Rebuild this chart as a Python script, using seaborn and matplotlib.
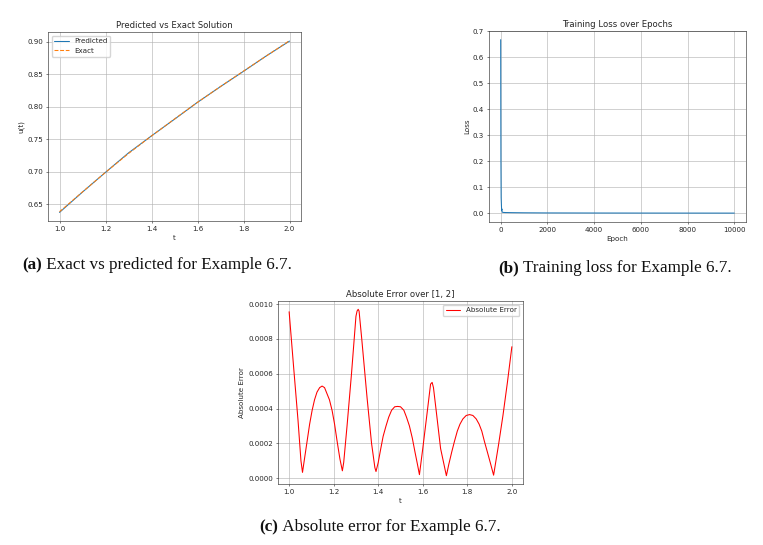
import matplotlib
matplotlib.use("Agg")
import matplotlib.pyplot as plt
import seaborn as sns

# ---------------- data ----------------
# (a) exact vs predicted
t_a = [1.0, 1.1, 1.2, 1.3, 1.4, 1.5, 1.6, 1.7, 1.8, 1.9, 2.0]
u_exact = [0.6385, 0.669, 0.699, 0.728, 0.755, 0.781, 0.8066, 0.831, 0.8546, 0.878, 0.9015]
u_pred = [0.6375, 0.6688, 0.6991, 0.7289, 0.7551, 0.7807, 0.8067, 0.8308, 0.8543, 0.8782, 0.9007]

# (b) training loss
epochs = [0, 5, 10, 20, 40, 50, 60, 80, 100, 200, 500, 1000, 2000, 4000, 6000, 8000, 10000]
loss = [0.668, 0.42, 0.21, 0.06, 0.012, 0.017, 0.006, 0.004, 0.0035, 0.003, 0.0025,
        0.002, 0.0015, 0.0012, 0.001, 0.0009, 0.0008]

# (c) absolute error
t_c = [1.0, 1.02, 1.04, 1.053, 1.06, 1.07, 1.081, 1.092, 1.103, 1.114, 1.125, 1.137, 1.148,
       1.159, 1.170, 1.181, 1.193, 1.204, 1.215, 1.228, 1.239, 1.245, 1.26, 1.28, 1.30,
       1.305, 1.31, 1.314, 1.326, 1.35, 1.37, 1.385, 1.39, 1.40, 1.41, 1.422, 1.435,
       1.447, 1.46, 1.474, 1.487, 1.50, 1.515, 1.527, 1.54, 1.553, 1.565, 1.576, 1.585,
       1.60, 1.62, 1.635, 1.642, 1.648, 1.66, 1.68, 1.706, 1.717, 1.73, 1.742, 1.755,
       1.767, 1.78, 1.795, 1.81, 1.825, 1.84, 1.853, 1.865, 1.877, 1.89, 1.905, 1.918,
       1.94, 1.96, 1.98, 2.0]
err_c = [0.000956, 0.00064, 0.00033, 0.00010, 0.000033, 0.00012, 0.000215, 0.00031, 0.000388,
         0.00045, 0.000494, 0.00052, 0.000529, 0.00052, 0.000485, 0.00045, 0.000388, 0.00031,
         0.000215, 0.00011, 0.000042, 0.00009, 0.00030, 0.00060, 0.00093,
         0.00096, 0.00097, 0.00096, 0.00080, 0.00046, 0.00020, 0.00006, 0.000038, 0.00009,
         0.00016, 0.00024, 0.00030, 0.00035, 0.00039, 0.00041, 0.000412, 0.00041, 0.00039,
         0.00035, 0.00030, 0.00023, 0.00015, 0.00008, 0.00002,
         0.00017, 0.00038, 0.00054, 0.00055, 0.00052, 0.00039, 0.00017, 0.000014, 0.00008,
         0.00015, 0.00021, 0.00027, 0.00031, 0.00034, 0.00036, 0.000365, 0.00036, 0.00034,
         0.00031, 0.00027, 0.00021, 0.00015, 0.00008, 0.000017,
         0.00019, 0.00036, 0.00055, 0.000755]

captions = [("(a)", "Exact vs predicted for Example 6.7."),
            ("(b)", "Training loss for Example 6.7."),
            ("(c)", "Absolute error for Example 6.7.")]

# ---------------- style ----------------
sc = 0.51
sns.set_style("ticks", rc={
    "axes.grid": True,
    "grid.color": "#b0b0b0",
    "axes.edgecolor": "#222222",
})
plt.rcParams.update({
    "font.family": ["DejaVu Sans"],
    "grid.linewidth": 0.8 * sc,
    "axes.linewidth": 0.8 * sc,
    "xtick.major.width": 0.8 * sc,
    "ytick.major.width": 0.8 * sc,
    "xtick.major.size": 3.5 * sc,
    "ytick.major.size": 3.5 * sc,
    "xtick.major.pad": 3.5 * sc,
    "ytick.major.pad": 3.5 * sc,
    "legend.fancybox": True,
})

W, H = 763, 545
fig = plt.figure(figsize=(W / 100, H / 100), dpi=100)

fs_tick = 10 * sc
fs_lab = 10 * sc
fs_title = 12 * sc
lw = 1.5 * sc


def style_ax(ax, title, xlabel, ylabel):
    ax.set_title(title, fontsize=fs_title, pad=6 * sc)
    ax.set_xlabel(xlabel, fontsize=fs_lab, labelpad=4 * sc)
    ax.set_ylabel(ylabel, fontsize=fs_lab, labelpad=4 * sc)
    ax.tick_params(labelsize=fs_tick, length=3.5 * sc, width=0.8 * sc, pad=3.5 * sc)
    for s in ax.spines.values():
        s.set_visible(True)
        s.set_linewidth(0.8 * sc)


# (a)
ax1 = fig.add_axes([48 / W, 1 - 221 / H, 253 / W, 189 / H])
sns.lineplot(x=t_a, y=u_pred, ax=ax1, label="Predicted", color="#1f77b4", linewidth=lw)
sns.lineplot(x=t_a, y=u_exact, ax=ax1, label="Exact", color="#ff7f0e", linewidth=lw,
             linestyle="--")
style_ax(ax1, "Predicted vs Exact Solution", "t", "u(t)")
ax1.set_xticks([1.0, 1.2, 1.4, 1.6, 1.8, 2.0])
ax1.set_yticks([0.65, 0.70, 0.75, 0.80, 0.85, 0.90])
ax1.legend(loc="upper left", fontsize=fs_lab, frameon=True, borderpad=0.4,
           handlelength=2.0)

# (b)
ax2 = fig.add_axes([489 / W, 1 - 222 / H, 257 / W, 191 / H])
sns.lineplot(x=epochs, y=loss, ax=ax2, color="#1f77b4", linewidth=lw)
style_ax(ax2, "Training Loss over Epochs", "Epoch", "Loss")
ax2.set_xticks([0, 2000, 4000, 6000, 8000, 10000])
ax2.set_yticks([0.0, 0.1, 0.2, 0.3, 0.4, 0.5, 0.6, 0.7])
ax2.set_ylim(-0.0334, 0.7014)

# (c)
ax3 = fig.add_axes([278 / W, 1 - 484 / H, 245 / W, 183 / H])
sns.lineplot(x=t_c, y=err_c, ax=ax3, color="red", linewidth=lw, label="Absolute Error")
style_ax(ax3, "Absolute Error over [1, 2]", "t", "Absolute Error")
ax3.set_xticks([1.0, 1.2, 1.4, 1.6, 1.8, 2.0])
ax3.set_yticks([0.0, 0.0002, 0.0004, 0.0006, 0.0008, 0.0010])
ax3.set_yticklabels(["0.0000", "0.0002", "0.0004", "0.0006", "0.0008", "0.0010"])
ax3.legend(loc="upper right", fontsize=fs_lab, frameon=True, borderpad=0.4)

# captions
serif = ["Liberation Serif", "DejaVu Serif"]
fs_cap = 12.3
renderer = fig.canvas.get_renderer()


def caption(label, rest, cx, cy):
    t1 = fig.text(0, 1 - cy / H, label, fontweight="bold", family=serif, fontsize=fs_cap,
                  va="center", ha="left", color="#111111")
    t2 = fig.text(0, 1 - cy / H, " " + rest, family=serif, fontsize=fs_cap,
                  va="center", ha="left", color="#111111")
    w1 = t1.get_window_extent(renderer).width
    w2 = t2.get_window_extent(renderer).width
    x0 = cx - (w1 + w2) / 2
    t1.set_x(x0 / W)
    t2.set_x((x0 + w1) / W)


caption(captions[0][0], captions[0][1], 157, 265)
caption(captions[1][0], captions[1][1], 615, 268)
caption(captions[2][0], captions[2][1], 380, 527)

fig.savefig("out.png", dpi=100)
